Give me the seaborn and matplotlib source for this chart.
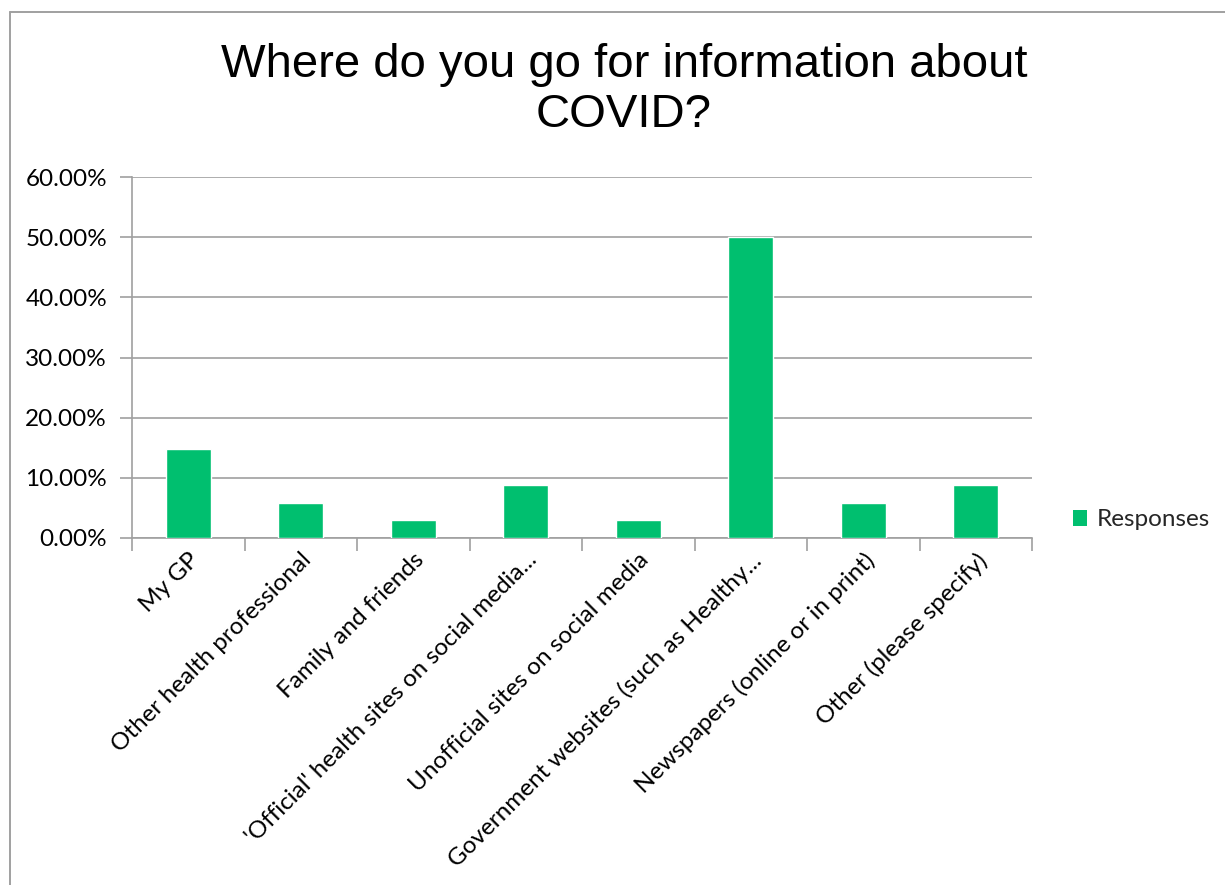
import matplotlib
matplotlib.use("Agg")
import matplotlib.pyplot as plt
from matplotlib.lines import Line2D
from matplotlib.patches import Patch
from matplotlib.ticker import FuncFormatter, FixedLocator, NullFormatter
import seaborn as sns
import pandas as pd

categories = [
    "My GP",
    "Other health professional",
    "Family and friends",
    "'Official' health sites on social media...",
    "Unofficial sites on social media",
    "Government websites (such as Healthy...",
    "Newspapers (online or in print)",
    "Other (please specify)",
]
responses = [14.71, 5.88, 2.94, 8.82, 2.94, 50.00, 5.88, 8.82]

df = pd.DataFrame({"source": categories, "share": responses})

sns.set_theme(style="white")
plt.rcParams["font.family"] = ["Lato", "DejaVu Sans"]

W, H = 1225, 885
fig = plt.figure(figsize=(W / 100, H / 100), dpi=100)
ax = fig.add_axes([132 / W, 1 - 538 / H, 900 / W, 361 / H])

bar_color = "#00BF6F"
grey = "#A0A0A0"
label_size = 17.5

sns.barplot(data=df, x="source", y="share", color=bar_color, width=0.4,
            saturation=1, ax=ax, zorder=3)

ax.set_ylim(0, 60)
ax.set_xlim(-0.5, len(categories) - 0.5)
ax.yaxis.set_major_locator(FixedLocator([0, 10, 20, 30, 40, 50, 60]))
ax.yaxis.set_major_formatter(FuncFormatter(lambda v, p: f"{v:.2f}%"))
ax.grid(axis="y", color=grey, linewidth=1.2, zorder=0)
ax.grid(axis="x", visible=False)

for side in ["top", "right"]:
    ax.spines[side].set_visible(False)
for side in ["left", "bottom"]:
    ax.spines[side].set_color(grey)
    ax.spines[side].set_linewidth(1.2)

ax.tick_params(axis="y", which="major", length=9, width=1.2, color=grey,
               labelsize=label_size, labelcolor="#000000", pad=9, direction="out", left=True)
ax.set_xticks(range(len(categories)))
ax.set_xticklabels(categories, rotation=45, ha="right", rotation_mode="anchor")
ax.tick_params(axis="x", which="major", length=0, labelsize=label_size,
               labelcolor="#000000", pad=8)
ax.xaxis.set_minor_locator(FixedLocator([i - 0.5 for i in range(len(categories) + 1)]))
ax.xaxis.set_minor_formatter(NullFormatter())
ax.tick_params(axis="x", which="minor", length=9, width=1.2, color=grey,
               direction="out", bottom=True)
ax.set_xlabel("")
ax.set_ylabel("")

fig.text(624 / W, 1 - 90 / H, "Where do you go for information about\nCOVID?",
         ha="center", va="center", fontsize=34, family=["Liberation Sans", "DejaVu Sans"],
         color="#000000", linespacing=1.15)

handle = Patch(facecolor=bar_color, edgecolor="none")
fig.legend([handle], ["Responses"], loc="center left",
           bbox_to_anchor=(1068 / W, 1 - 520 / H), frameon=False,
           fontsize=label_size, handlelength=0.6, handleheight=0.6, handletextpad=0.4,
           borderaxespad=0, borderpad=0.2)

fig.add_artist(Line2D([10 / W, 10 / W], [0, 1 - 12 / H], color=grey, linewidth=1.4))
fig.add_artist(Line2D([10 / W, 1], [1 - 12 / H, 1 - 12 / H], color=grey, linewidth=1.4))

fig.savefig("out.png", dpi=100, facecolor="white")
